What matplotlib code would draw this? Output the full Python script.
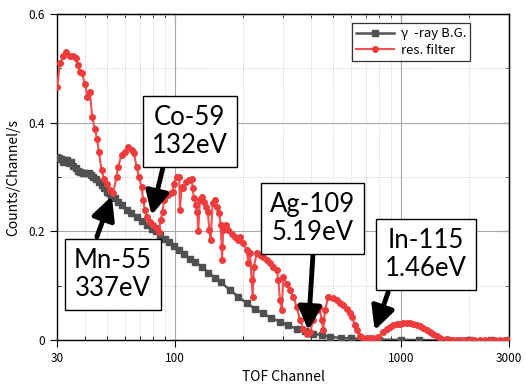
import numpy as np
import matplotlib
matplotlib.use("Agg")
import matplotlib.pyplot as plt
from matplotlib.ticker import FixedLocator, NullFormatter

plt.rcParams['font.family'] = ['Noto Sans CJK JP', 'DejaVu Sans']

# gamma-ray background
bg_ch = [30, 30.6, 31.3, 31.9, 32.6, 33.2, 34.0, 34.6, 35.5, 36.3, 37.1, 38.0, 39.0, 40.0,
         41.5, 42.5, 43.5, 44.8, 46.0, 47.3, 48.6, 49.8, 51.0, 52.0, 54.0, 56.0, 58.0, 61.3,
         64.0, 68.0, 71.5, 75.0, 79.0, 82.0, 85.7, 90.0, 94.0, 99.4, 104, 110, 116, 122, 132,
         140, 150, 160, 175, 190, 207, 225, 245, 265, 291, 315, 345, 375, 409, 445, 484, 540,
         600, 700, 800, 1000, 1200, 1600, 2000, 2500, 3000]
bg_val = [0.337, 0.335, 0.333, 0.328, 0.331, 0.331, 0.326, 0.328, 0.320, 0.316, 0.312, 0.310,
          0.307, 0.308, 0.307, 0.303, 0.301, 0.296, 0.291, 0.285, 0.279, 0.273, 0.270, 0.267,
          0.261, 0.254, 0.248, 0.240, 0.234, 0.226, 0.219, 0.212, 0.205, 0.201, 0.194, 0.186,
          0.180, 0.173, 0.166, 0.158, 0.150, 0.143, 0.135, 0.124, 0.115, 0.106, 0.092, 0.080,
          0.068, 0.058, 0.049, 0.041, 0.034, 0.027, 0.021, 0.016, 0.012, 0.009, 0.006, 0.004,
          0.003, 0.002, 0.001, 0.0005, 0.0, 0.0, 0.0, 0.0, 0.0]

# with resonance filter
rf_ch = [30.2, 30.9, 32.0, 33.1, 34.3, 35.4, 36.3, 37.1, 37.9, 38.8, 39.9, 41.0, 42.0, 43.0,
         44.2, 45.2, 46.0, 47.3, 48.6, 49.8, 51.5, 53.3, 55.1, 56.0, 58.0, 60.0, 62.0, 64.2,
         65.7, 67.6, 69.2, 71.1, 72.3, 73.5, 75.3, 77.4, 80.0, 82.9, 84.8, 86.3, 88.1, 89.3,
         91.1, 93.2, 95.5, 97.5, 98.8, 101.6, 104.3, 105.0, 106.9, 108.6, 111.7, 115.5, 118.4,
         119.5, 121.2, 123.6, 125.3, 126.6, 128.8, 131.0, 134.1, 136.9, 139.7, 141.6, 143.6,
         146.6, 150.1, 153.6, 156.8, 159.0, 160.7, 161.2, 163.3, 167.8, 171.8, 177.9, 184.0,
         190.3, 193.6, 200.2, 207.3, 210.7, 214.4, 218.1, 220.3, 223.2, 229.5, 237.3, 245.5,
         254.2, 262.7, 271.8, 281.3, 286.0, 291, 296.0, 301, 311.4, 322, 333, 345, 357, 369,
         382, 395, 409, 423, 434, 445, 452, 460, 476, 501, 519, 536, 555, 574, 594, 604, 625,
         636, 657, 680, 704, 728, 753, 792, 834, 863, 893, 923, 956, 988, 1022, 1058, 1094,
         1132, 1171, 1211, 1253, 1297, 1341, 1387, 1436, 1485, 1591, 1650, 1696, 1760, 1821,
         1900, 2017, 2100, 2232, 2350, 2472, 2600, 2737, 2870, 3000]
rf_val = [0.466, 0.509, 0.522, 0.531, 0.522, 0.523, 0.519, 0.506, 0.494, 0.491, 0.472, 0.448,
          0.457, 0.411, 0.388, 0.370, 0.347, 0.313, 0.296, 0.288, 0.276, 0.271, 0.301, 0.319,
          0.341, 0.347, 0.356, 0.350, 0.344, 0.319, 0.301, 0.282, 0.258, 0.239, 0.227, 0.218,
          0.212, 0.206, 0.199, 0.221, 0.236, 0.258, 0.267, 0.267, 0.270, 0.273, 0.288, 0.301,
          0.301, 0.239, 0.282, 0.279, 0.291, 0.295, 0.296, 0.279, 0.261, 0.249, 0.236, 0.200,
          0.258, 0.264, 0.255, 0.245, 0.236, 0.203, 0.184, 0.252, 0.258, 0.245, 0.233, 0.212,
          0.172, 0.147, 0.203, 0.212, 0.203, 0.196, 0.190, 0.184, 0.190, 0.178, 0.166, 0.141,
          0.160, 0.110, 0.080, 0.135, 0.160, 0.156, 0.153, 0.147, 0.141, 0.135, 0.129, 0.110,
          0.074, 0.055, 0.117, 0.104, 0.092, 0.080, 0.061, 0.037, 0.021, 0.012, 0.015, 0.037,
          0.055, 0.061, 0.037, 0.018, 0.055, 0.080, 0.078, 0.074, 0.068, 0.064, 0.058, 0.049,
          0.043, 0.028, 0.018, 0.008, 0.004, 0.003, 0.003, 0.003, 0.006, 0.015, 0.021, 0.024,
          0.027, 0.029, 0.030, 0.031, 0.031, 0.031, 0.030, 0.028, 0.026, 0.023, 0.019, 0.015,
          0.011, 0.007, 0.004, 0.002, 0.001, 0.001, 0.001, 0.001, 0.001, 0.001, 0.001, 0.001,
          0.001, 0.001, 0.001, 0.001, 0.001, 0.001]

# labels: (text, text position in axes fraction, arrow start, arrow tip) in data units
notes = [("Co-59\n132eV", (0.294, 0.640), (88.3, 0.317), (78.7, 0.230)),
         ("Mn-55\n337eV", (0.124, 0.201), (45.1, 0.190), (52.5, 0.265)),
         ("Ag-109\n5.19eV", (0.565, 0.373), (407, 0.157), (388, 0.018)),
         ("In-115\n1.46eV", (0.816, 0.261), (875, 0.088), (763, 0.018))]

fig = plt.figure(figsize=(5.26, 3.9), dpi=100)
ax = fig.add_axes([0.108, 0.128, 0.860, 0.836])

ax.plot(bg_ch, bg_val, color='#555555', marker='s', ms=4, lw=1.8,
        mec='#505050', mfc='#505050', label='γ  -ray B.G.', zorder=3)
ax.plot(rf_ch, rf_val, color='#f25050', marker='o', ms=4, lw=1.5,
        mec='#ee3c3c', mfc='#ee3c3c', label='res. filter', zorder=4)

ax.set_xscale('log')
ax.set_xlim(30, 3000)
ax.set_ylim(0, 0.6)

ax.xaxis.set_major_locator(FixedLocator([30, 100, 1000, 3000]))
ax.xaxis.set_minor_locator(FixedLocator([40, 50, 60, 70, 80, 90, 200, 300, 400, 500,
                                         600, 700, 800, 900, 2000]))
ax.xaxis.set_minor_formatter(NullFormatter())
ax.set_xticklabels(['30', '100', '1000', '3000'])
ax.yaxis.set_major_locator(FixedLocator([0, 0.2, 0.4, 0.6]))
ax.yaxis.set_minor_locator(FixedLocator([0.1, 0.3, 0.5]))
ax.set_yticklabels(['0', '0.2', '0.4', '0.6'])

ax.grid(which='major', color='#a8a8a8', lw=0.8, ls='-')
ax.grid(which='minor', color='#c8c8c8', lw=0.7, ls=':')
ax.set_axisbelow(True)

ax.tick_params(which='major', direction='out', length=5, width=0.8, labelsize=8.5)
ax.tick_params(which='minor', direction='in', length=3, width=0.6)
for s in ax.spines.values():
    s.set_linewidth(1.0)
    s.set_color('black')

top = ax.secondary_xaxis('top')
top.xaxis.set_major_locator(FixedLocator([100, 1000]))
top.xaxis.set_minor_locator(FixedLocator([40, 50, 60, 70, 80, 90, 200, 300, 400, 500,
                                          600, 700, 800, 900, 2000]))
top.tick_params(which='both', direction='in', labeltop=False)
top.tick_params(which='major', length=5)
top.tick_params(which='minor', length=3)
right = ax.secondary_yaxis('right')
right.yaxis.set_major_locator(FixedLocator([0.2, 0.4]))
right.yaxis.set_minor_locator(FixedLocator([0.1, 0.3, 0.5]))
right.tick_params(which='both', direction='in', labelright=False)
right.tick_params(which='major', length=5)
right.tick_params(which='minor', length=3)

ax.set_xlabel('TOF Channel', fontsize=10, labelpad=4)
ax.set_ylabel('Counts/Channel/s', fontsize=10, labelpad=6)

leg = ax.legend(loc='upper right', bbox_to_anchor=(0.914, 0.972), fontsize=9.5,
                frameon=True, fancybox=False, handlelength=2.9, borderpad=0.3,
                labelspacing=0.3, handletextpad=0.5, borderaxespad=0)
leg.get_frame().set_edgecolor('black')
leg.get_frame().set_linewidth(0.9)

for text, pos, start, tip in notes:
    ax.annotate('', xy=tip, xytext=start,
                arrowprops=dict(arrowstyle='-|>,head_length=0.7,head_width=0.35',
                                lw=3.5, color='black', shrinkA=0, shrinkB=0,
                                mutation_scale=20), zorder=6)
    ax.text(pos[0], pos[1], text, transform=ax.transAxes, ha='center', va='center',
            fontsize=18.5, family=['Lato', 'DejaVu Sans'], linespacing=1.15, zorder=7,
            bbox=dict(boxstyle='square,pad=0.35', fc='white', ec='black', lw=1.0))

fig.savefig('out.png', dpi=100)
